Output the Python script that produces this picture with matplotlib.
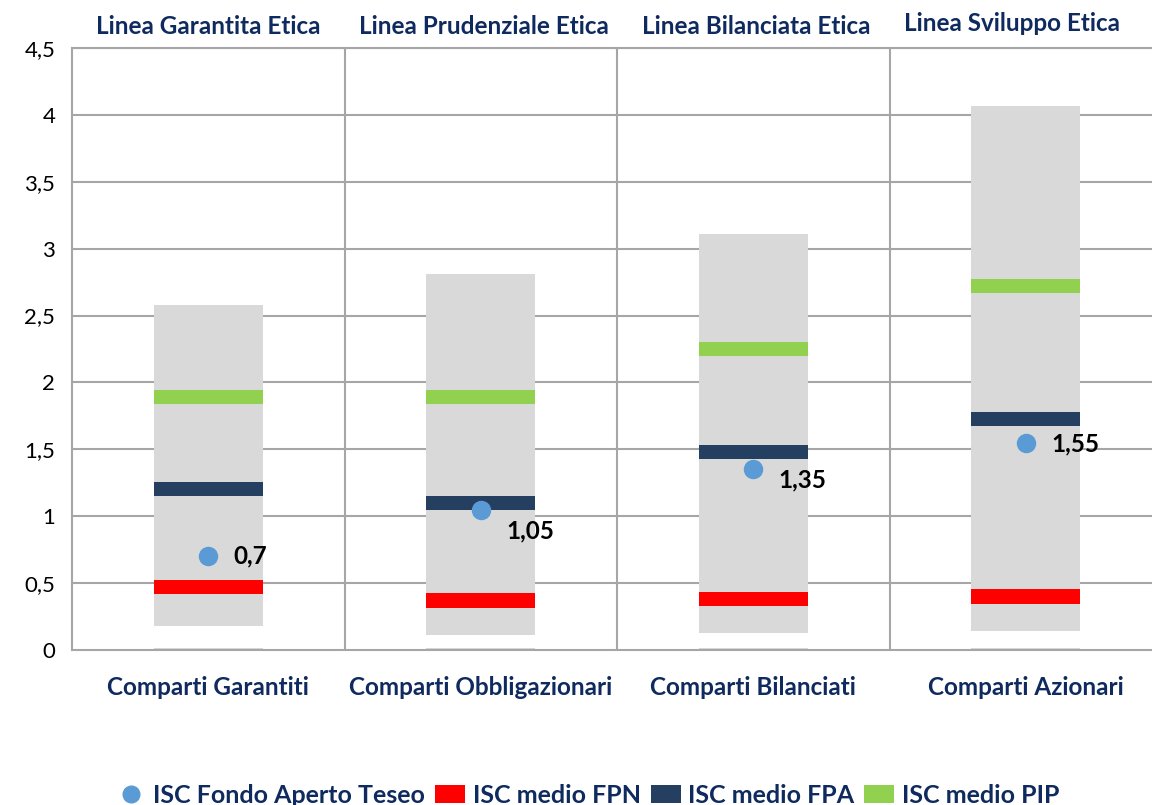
import matplotlib.pyplot as plt
from matplotlib.patches import Patch
from matplotlib.lines import Line2D

plt.rcParams['font.family'] = ['Lato', 'DejaVu Sans']

categorie = ['Comparti Garantiti', 'Comparti Obbligazionari', 'Comparti Bilanciati', 'Comparti Azionari']
linee = ['Linea Garantita Etica', 'Linea Prudenziale Etica', 'Linea Bilanciata Etica', 'Linea Sviluppo Etica']
isc_min = [0.18, 0.11, 0.13, 0.14]
isc_max = [2.58, 2.81, 3.11, 4.07]
isc_fpn = [0.47, 0.37, 0.38, 0.40]
isc_fpa = [1.20, 1.10, 1.48, 1.73]
isc_pip = [1.89, 1.89, 2.25, 2.72]
isc_teseo = [0.7, 1.05, 1.35, 1.55]
etichette_teseo = ['0,7', '1,05', '1,35', '1,55']

navy = '#0E2A5E'
fig = plt.figure(figsize=(11.52, 8.05), dpi=100)
ax = fig.add_axes([72 / 1152, 1 - 650 / 805, 1090 / 1152, 602 / 805])

x = list(range(len(categorie)))
w = 0.4
spess = 0.105

# intervallo min-max
ax.bar(x, [m - n for m, n in zip(isc_max, isc_min)], bottom=isc_min, width=w, color='#D9D9D9', zorder=2)
ax.bar(x, [0.015] * 4, bottom=0, width=w, color='#D9D9D9', zorder=2)

ax.bar(x, [spess] * 4, bottom=[v - spess / 2 for v in isc_fpn], width=w, color='#FF0000', zorder=3)
ax.bar(x, [spess] * 4, bottom=[v - spess / 2 for v in isc_fpa], width=w, color='#243F60', zorder=3)
ax.bar(x, [spess] * 4, bottom=[v - spess / 2 for v in isc_pip], width=w, color='#92D050', zorder=3)
ax.plot(x, isc_teseo, 'o', color='#5B9BD5', markersize=13, zorder=4, linestyle='none')

# scostamento verticale delle etichette
dys = [0.0, -0.16, -0.075, -0.01]
for i, (t, lab) in enumerate(zip(isc_teseo, etichette_teseo)):
    ax.text(i + 0.093, t + dys[i], lab, fontsize=17.5,
            fontweight='bold', color='black', va='center', ha='left', zorder=5)

ax.set_xlim(-0.5, 3.5)
ax.set_ylim(0, 4.5)
ax.set_yticks([0, 0.5, 1, 1.5, 2, 2.5, 3, 3.5, 4, 4.5])
ax.set_yticklabels(['0', '0,5', '1', '1,5', '2', '2,5', '3', '3,5', '4', '4,5'], fontsize=16)
ax.set_xticks(x)
ax.set_xticklabels(categorie, fontsize=17.5, fontweight='bold', color=navy)
ax.tick_params(axis='both', length=0)
ax.tick_params(axis='x', pad=19)
ax.tick_params(axis='y', pad=12)

for yv in [0.5, 1, 1.5, 2, 2.5, 3, 3.5, 4, 4.5]:
    ax.axhline(yv, color='#A6A6A6', lw=1.5, zorder=1)
for xv in [0.5, 1.5, 2.5]:
    ax.axvline(xv, color='#A6A6A6', lw=1.5, zorder=1)
for s in ax.spines.values():
    s.set_color('#A6A6A6')
    s.set_linewidth(1.5)

top_x = [0, 1.01, 2.01, 2.95]
top_y = [4.66, 4.66, 4.66, 4.68]
for i, lab in enumerate(linee):
    ax.text(top_x[i], top_y[i], lab, fontsize=17.5, fontweight='bold', color=navy,
            ha='center', va='center', clip_on=False)

handles = [
    Line2D([], [], marker='o', color='#5B9BD5', linestyle='none', markersize=12),
    Patch(facecolor='#FF0000'),
    Patch(facecolor='#243F60'),
    Patch(facecolor='#92D050'),
]
fig.legend(handles, ['ISC Fondo Aperto Teseo', 'ISC medio FPN', 'ISC medio FPA', 'ISC medio PIP'],
           loc='center', bbox_to_anchor=(0.51, 1 - 795 / 805), ncol=4, frameon=False,
           prop={'size': 18, 'weight': 'bold'}, labelcolor=navy, handlelength=1.2,
           handletextpad=0.3, columnspacing=0.4)

fig.savefig('out.png', dpi=100)
